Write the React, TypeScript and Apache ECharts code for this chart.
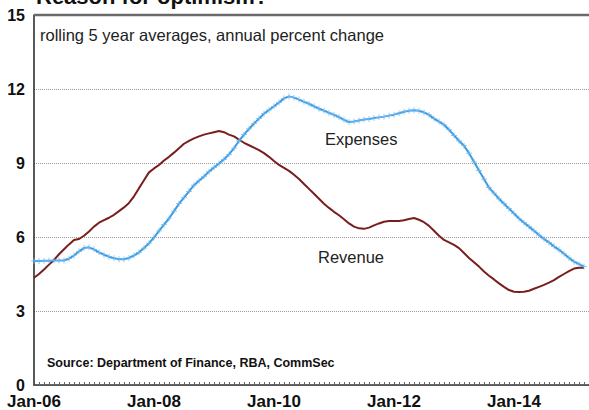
import React, { useEffect, useRef } from "react";
import * as echarts from "echarts";

// month index 0 = Jan-06
const xTickLabels: Record<number, string> = { 0: "Jan-06", 24: "Jan-08", 48: "Jan-10", 72: "Jan-12", 96: "Jan-14" };

const revenue = [
  4.35, 4.5, 4.68, 4.88, 5.07, 5.3, 5.5, 5.7, 5.88, 5.92, 6.05, 6.22,
  6.42, 6.58, 6.68, 6.78, 6.9, 7.05, 7.2, 7.38, 7.65, 7.98, 8.3, 8.62,
  8.78, 8.92, 9.1, 9.25, 9.42, 9.6, 9.78, 9.9, 10.0, 10.08, 10.15, 10.2,
  10.25, 10.3, 10.25, 10.15, 10.08, 9.95, 9.82, 9.72, 9.62, 9.52, 9.4, 9.25,
  9.08, 8.92, 8.8, 8.68, 8.52, 8.35, 8.15, 7.95, 7.75, 7.55, 7.35, 7.18,
  7.02, 6.88, 6.72, 6.55, 6.42, 6.35, 6.33, 6.38, 6.47, 6.55, 6.62, 6.65,
  6.65, 6.65, 6.68, 6.73, 6.77, 6.7, 6.6, 6.45, 6.25, 6.05, 5.88, 5.78,
  5.68, 5.55, 5.35, 5.15, 4.98, 4.8, 4.6, 4.43, 4.28, 4.12, 3.98, 3.85,
  3.78, 3.77, 3.78, 3.82, 3.9, 3.98, 4.06, 4.15, 4.25, 4.38, 4.5, 4.62,
  4.72, 4.75, 4.75,
];

const expenses = [
  5.03, 5.03, 5.04, 5.04, 5.05, 5.05, 5.05, 5.12, 5.25, 5.42, 5.55, 5.58,
  5.5, 5.38, 5.28, 5.2, 5.14, 5.1, 5.1, 5.15, 5.25, 5.38, 5.55, 5.75,
  5.98, 6.25, 6.5, 6.75, 7.05, 7.35, 7.6, 7.85, 8.1, 8.28, 8.45, 8.65,
  8.82, 8.98, 9.15, 9.35, 9.6, 9.9, 10.15, 10.38, 10.6, 10.8, 11.0, 11.15,
  11.3, 11.45, 11.62, 11.7, 11.65, 11.57, 11.48, 11.4, 11.3, 11.2, 11.12, 11.03,
  10.95, 10.86, 10.75, 10.66, 10.68, 10.72, 10.76, 10.78, 10.82, 10.85, 10.88, 10.92,
  10.96, 11.02, 11.08, 11.12, 11.14, 11.12, 11.05, 10.95, 10.8, 10.68, 10.55, 10.35,
  10.12, 9.9, 9.7, 9.4, 9.05, 8.7, 8.35, 8.0, 7.78, 7.55, 7.35, 7.15,
  6.95, 6.75, 6.58, 6.42, 6.25, 6.08, 5.92, 5.78, 5.62, 5.48, 5.32, 5.15,
  5.0, 4.9, 4.8,
];

const FONT = "'Liberation Sans', Arial, sans-serif";

export default function App() {
  const ref = useRef<HTMLDivElement>(null);
  useEffect(() => {
    if (!ref.current) return;
    const chart = echarts.init(ref.current, undefined, { renderer: "svg" });
    const revData = revenue.map((v, i) => [i, v]);
    const expData = expenses.map((v, i) => [i, v]);
    chart.setOption({
      animation: false,
      backgroundColor: "#ffffff",
      grid: { left: 34, right: 0, top: 15, bottom: 23, containLabel: false },
      xAxis: {
        type: "value",
        min: 0,
        max: 111,
        interval: 24,
        axisLine: { show: true, lineStyle: { color: "#333", width: 1.5 } },
        axisTick: { show: true, inside: true, length: 3, lineStyle: { color: "#555" } },
        minorTick: { show: true, splitNumber: 24, length: 3, lineStyle: { color: "#666" } },
        splitLine: { show: false },
        axisLabel: {
          margin: 8,
          fontFamily: FONT,
          fontWeight: "bold",
          fontSize: 17,
          color: "#111",
          formatter: (v: number) => xTickLabels[v] ?? "",
          showMaxLabel: false,
        },
      },
      yAxis: {
        type: "value",
        min: 0,
        max: 15,
        interval: 3,
        axisLine: { show: true, lineStyle: { color: "#222", width: 1.5 } },
        axisTick: { show: false },
        splitLine: { show: true, lineStyle: { color: "#9a9a9a", type: "dotted", width: 1 } },
        axisLabel: { margin: 9, fontFamily: FONT, fontWeight: "bold", fontSize: 16, color: "#111" },
      },
      series: [
        {
          name: "Revenue",
          type: "line",
          data: revData,
          showSymbol: false,
          symbol: "none",
          lineStyle: { color: "#7a1d1d", width: 2 },
          z: 3,
        },
        {
          name: "Expenses",
          type: "line",
          data: expData,
          symbol: "path://M0 4.4H10V5.6H0Z M4.4 0H5.6V10H4.4Z",
          symbolSize: 6,
          showAllSymbol: true,
          itemStyle: { color: "#6fb8ee" },
          lineStyle: { color: "#3d9be0", width: 2 },
          z: 4,
        },
      ],
      graphic: [
        {
          type: "text",
          left: 36,
          top: -15,
          style: { text: "Reason for optimism?", font: `bold 22px ${FONT}`, fill: "#111" },
        },
        {
          type: "line",
          shape: { x1: 34, y1: 15, x2: 589, y2: 15 },
          style: { stroke: "#6a6a6a", lineWidth: 2.5 },
          z: 10,
        },
        {
          type: "text",
          left: 40,
          top: 26,
          style: { text: "rolling 5 year averages, annual percent change", font: `16.5px ${FONT}`, fill: "#222" },
        },
        {
          type: "text",
          left: 325,
          top: 130,
          style: { text: "Expenses", font: `16.5px ${FONT}`, fill: "#222" },
        },
        {
          type: "text",
          left: 318,
          top: 248,
          style: { text: "Revenue", font: `16.5px ${FONT}`, fill: "#222" },
        },
        {
          type: "text",
          left: 47,
          top: 356,
          style: { text: "Source: Department of Finance, RBA, CommSec", font: `bold 12.5px ${FONT}`, fill: "#111" },
        },
      ],
    });
    return () => chart.dispose();
  }, []);
  return <div ref={ref} style={{ position: "fixed", left: 0, top: 0, width: 589, height: 410 }} />;
}
